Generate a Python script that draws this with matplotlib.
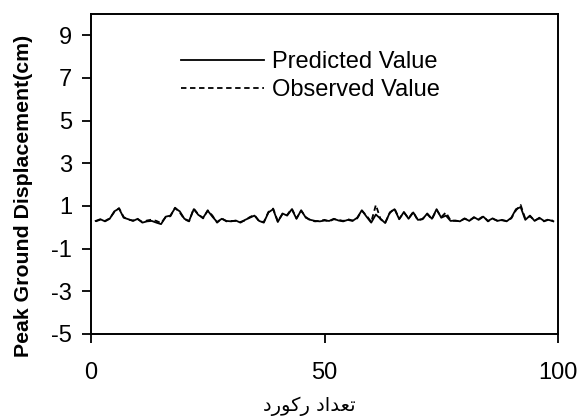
import matplotlib
matplotlib.use('Agg')
import matplotlib.pyplot as plt
import numpy as np

plt.rcParams['font.family'] = ['Liberation Sans', 'DejaVu Sans']
plt.rcParams['axes.unicode_minus'] = False

# record numbers and peak ground displacement (cm)
records = list(range(1, 100))
predicted = [0.30, 0.38, 0.28, 0.40, 0.75, 0.88, 0.45, 0.38, 0.30, 0.40,
             0.22, 0.28, 0.30, 0.22, 0.15, 0.50, 0.55, 0.90, 0.75, 0.40,
             0.30, 0.85, 0.58, 0.45, 0.78, 0.50, 0.25, 0.40, 0.30, 0.28,
             0.32, 0.22, 0.35, 0.45, 0.55, 0.30, 0.22, 0.70, 0.85, 0.25,
             0.65, 0.55, 0.85, 0.40, 0.80, 0.45, 0.35, 0.30, 0.28, 0.32,
             0.30, 0.40, 0.32, 0.28, 0.35, 0.30, 0.45, 0.80, 0.50, 0.22,
             0.60, 0.40, 0.20, 0.70, 0.85, 0.38, 0.72, 0.40, 0.70, 0.35,
             0.38, 0.65, 0.40, 0.85, 0.45, 0.55, 0.30, 0.32, 0.28, 0.42,
             0.30, 0.48, 0.35, 0.50, 0.30, 0.42, 0.30, 0.35, 0.28, 0.45,
             0.85, 0.95, 0.35, 0.55, 0.30, 0.45, 0.30, 0.35, 0.28]
observed = [0.28, 0.36, 0.30, 0.42, 0.72, 0.90, 0.48, 0.36, 0.32, 0.38,
            0.25, 0.32, 0.36, 0.30, 0.20, 0.48, 0.52, 0.92, 0.70, 0.38,
            0.28, 0.88, 0.60, 0.42, 0.80, 0.55, 0.22, 0.42, 0.28, 0.30,
            0.30, 0.25, 0.33, 0.48, 0.58, 0.28, 0.25, 0.72, 0.88, 0.28,
            0.62, 0.58, 0.88, 0.42, 0.78, 0.48, 0.32, 0.28, 0.30, 0.35,
            0.28, 0.38, 0.35, 0.30, 0.38, 0.32, 0.42, 0.78, 0.55, 0.25,
            1.05, 0.38, 0.22, 0.68, 0.88, 0.40, 0.70, 0.42, 0.72, 0.32,
            0.40, 0.62, 0.38, 0.82, 0.48, 0.70, 0.32, 0.30, 0.30, 0.40,
            0.32, 0.45, 0.38, 0.52, 0.28, 0.40, 0.32, 0.33, 0.30, 0.42,
            0.80, 1.05, 0.40, 0.52, 0.32, 0.42, 0.28, 0.38, 0.30]

yticks = [-5, -3, -1, 1, 3, 5, 7, 9]
xticks = [0, 50, 100]

fig = plt.figure(figsize=(5.81, 4.17), dpi=100)
ax = fig.add_axes([91/581, 1-334/417, (558-91)/581, (334-14)/417])

ax.plot(records, predicted, color='black', lw=1.3, label='Predicted Value')
ax.plot(records, observed, color='black', lw=1.3, ls=(0, (3, 2)), label='Observed Value')

ax.set_xlim(0, 100)
ax.set_ylim(-5, 10)
ax.set_xticks(xticks)
ax.set_yticks(yticks)
ax.tick_params(axis='both', direction='out', length=6.5, width=1.3, labelsize=17)
ax.tick_params(axis='x', pad=14)
ax.tick_params(axis='y', pad=7)
for s in ax.spines.values():
    s.set_linewidth(1.4)

ax.set_ylabel('Peak Ground Displacement(cm)', fontsize=15.3, fontweight='bold')
ax.yaxis.set_label_coords(-0.124, 0.43)

# x label in Persian, glyphs already in presentation forms, right-to-left order
fig.text(309/581, 1-411/417, '\uFEA9\uFEAD\uFEEE\uFEDB\uFEAD \uFEA9\uFE8D\uFEAA\uFECC\uFE97',
         ha='center', va='baseline', fontsize=14, family=['DejaVu Sans'])

leg = ax.legend(loc='upper left', bbox_to_anchor=(181/581, 1-51/417),
                bbox_transform=fig.transFigure, frameon=False, fontsize=17,
                handlelength=3.5, handletextpad=0.35, labelspacing=0.27,
                borderpad=0, borderaxespad=0)

fig.savefig('out.png', dpi=100)
